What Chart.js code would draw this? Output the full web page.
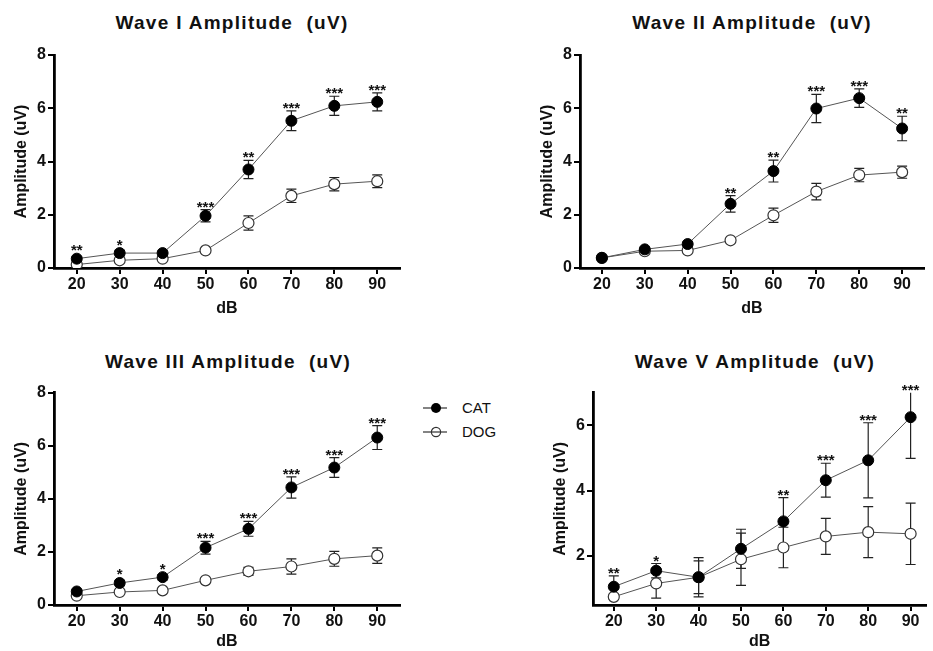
<!DOCTYPE html>
<html>
<head>
<meta charset="utf-8">
<script src="https://cdn.jsdelivr.net/npm/chart.js@4.4.1/dist/chart.umd.min.js"></script>
<style>
  html, body { margin: 0; padding: 0; background: #fff; overflow: hidden; }
  body { width: 933px; height: 651px; position: relative; font-family: 'Liberation Sans', Arial, sans-serif; color: #111; }
  canvas { position: absolute; }
  .title { position: absolute; font-weight: bold; font-size: 19px; letter-spacing: 1.3px; white-space: nowrap; transform: translate(-50%, -50%); }
  .legend-item { position: absolute; left: 423px; display: flex; align-items: center; font-size: 15px; }
  .legend-item svg { margin-right: 15px; }
</style>
</head>
<body>
<div class="title" style="left:232px;top:23px">Wave I Amplitude&nbsp; (uV)</div>
<div class="title" style="left:752px;top:23px">Wave II Amplitude&nbsp; (uV)</div>
<div class="title" style="left:228px;top:362px">Wave III Amplitude&nbsp; (uV)</div>
<div class="title" style="left:755px;top:362px">Wave V Amplitude&nbsp; (uV)</div>

<div class="legend-item" style="top:399px">
  <svg width="24" height="16"><line x1="0" y1="8" x2="24" y2="8" stroke="#333" stroke-width="1.2"/><circle cx="13" cy="8" r="5" fill="#000"/></svg><span>CAT</span>
</div>
<div class="legend-item" style="top:423px">
  <svg width="24" height="16"><line x1="0" y1="8" x2="24" y2="8" stroke="#333" stroke-width="1.2"/><circle cx="13" cy="8" r="4.6" fill="none" stroke="#333" stroke-width="1.2"/></svg><span>DOG</span>
</div>

<canvas id="wave1" width="466" height="318" style="left:0;top:0"></canvas>
<canvas id="wave2" width="407" height="318" style="left:526px;top:0"></canvas>
<canvas id="wave3" width="466" height="311" style="left:0;top:340px"></canvas>
<canvas id="wave5" width="394" height="311" style="left:539px;top:340px"></canvas>

<script>
const dB = [20, 30, 40, 50, 60, 70, 80, 90];
const ampTicks = [0, 2, 4, 6, 8];
const wave5Ticks = [2, 4, 6];

const wave1Cat    = [0.35, 0.56, 0.56, 1.96, 3.70, 5.53, 6.09, 6.24];
const wave1CatErr = [0.08, 0.10, 0.08, 0.23, 0.34, 0.37, 0.36, 0.34];
const wave1Dog    = [0.13, 0.29, 0.35, 0.66, 1.69, 2.71, 3.15, 3.26];
const wave1DogErr = [0.05, 0.05, 0.05, 0.06, 0.27, 0.25, 0.25, 0.24];
const wave1Stars  = ['**', '*', '', '***', '**', '***', '***', '***'];

const wave2Cat    = [0.38, 0.70, 0.90, 2.41, 3.64, 5.99, 6.38, 5.24];
const wave2CatErr = [0.06, 0.08, 0.08, 0.31, 0.41, 0.53, 0.35, 0.46];
const wave2Dog    = [0.38, 0.63, 0.66, 1.04, 1.98, 2.87, 3.49, 3.60];
const wave2DogErr = [0.05, 0.05, 0.06, 0.07, 0.27, 0.31, 0.25, 0.23];
const wave2Stars  = ['', '', '', '**', '**', '***', '***', '**'];

const wave3Cat    = [0.51, 0.83, 1.05, 2.16, 2.87, 4.43, 5.18, 6.31];
const wave3CatErr = [0.07, 0.10, 0.10, 0.24, 0.28, 0.40, 0.37, 0.45];
const wave3Dog    = [0.35, 0.49, 0.55, 0.93, 1.27, 1.45, 1.74, 1.86];
const wave3DogErr = [0.05, 0.06, 0.06, 0.08, 0.15, 0.29, 0.28, 0.29];
const wave3Stars  = ['', '*', '*', '***', '***', '***', '***', '***'];

const wave5Cat    = [1.06, 1.55, 1.35, 2.22, 3.06, 4.32, 4.93, 6.25];
const wave5CatErr = [0.33, 0.22, 0.50, 0.60, 0.73, 0.52, 1.15, 1.26];
const wave5Dog    = [0.75, 1.16, 1.35, 1.90, 2.26, 2.60, 2.73, 2.68];
const wave5DogErr = [0.08, 0.45, 0.60, 0.80, 0.62, 0.55, 0.78, 0.94];
const wave5Stars  = ['**', '*', '', '', '**', '***', '***', '***'];

const FONT = "'Liberation Sans', Arial, sans-serif";

// error bars under the markers, clipped to the plot; stars above the CAT bars
const errorBars = {
  id: 'errorBars',
  beforeDatasetsDraw(chart) {
    const { ctx, chartArea, scales: { x, y } } = chart;
    ctx.save();
    ctx.beginPath();
    ctx.rect(chartArea.left, chartArea.top, chartArea.right - chartArea.left, chartArea.bottom - chartArea.top);
    ctx.clip();
    ctx.strokeStyle = '#222';
    ctx.lineWidth = 1.2;
    chart.data.datasets.forEach(ds => {
      ds.data.forEach((p, i) => {
        const px = x.getPixelForValue(p.x);
        const top = y.getPixelForValue(p.y + ds.err[i]);
        const bot = y.getPixelForValue(p.y - ds.err[i]);
        ctx.beginPath();
        ctx.moveTo(px, top); ctx.lineTo(px, bot);
        ctx.moveTo(px - 5, top); ctx.lineTo(px + 5, top);
        ctx.moveTo(px - 5, bot); ctx.lineTo(px + 5, bot);
        ctx.stroke();
      });
    });
    ctx.restore();
  },
  afterDatasetsDraw(chart) {
    const { ctx, chartArea, scales: { x, y } } = chart;
    const ds = chart.data.datasets[0];
    ctx.save();
    ctx.fillStyle = '#111';
    ctx.font = 'bold 15px ' + FONT;
    ctx.textAlign = 'center';
    ctx.textBaseline = 'alphabetic';
    ds.data.forEach((p, i) => {
      if (!ds.stars[i]) return;
      const cap = y.getPixelForValue(p.y + ds.err[i]);
      const mark = y.getPixelForValue(p.y) - ds.pointRadius;
      const top = Math.max(Math.min(cap, mark), chartArea.top);
      ctx.fillText(ds.stars[i], x.getPixelForValue(p.x), top + 2);
    });
    ctx.restore();
  }
};

function makeChart(id, cat, catErr, dog, dogErr, stars, cfg) {
  return new Chart(document.getElementById(id), {
    type: 'line',
    data: {
      datasets: [
        {
          label: 'CAT',
          data: dB.map((v, i) => ({ x: v, y: cat[i] })),
          err: catErr,
          stars: stars,
          borderColor: '#555',
          borderWidth: 1,
          pointRadius: 5.5,
          pointBackgroundColor: '#000',
          pointBorderColor: '#000',
          pointBorderWidth: 1,
          tension: 0
        },
        {
          label: 'DOG',
          data: dB.map((v, i) => ({ x: v, y: dog[i] })),
          err: dogErr,
          stars: [],
          borderColor: '#555',
          borderWidth: 1,
          pointRadius: 5.5,
          pointBackgroundColor: '#fff',
          pointBorderColor: '#333',
          pointBorderWidth: 1.2,
          tension: 0
        }
      ]
    },
    options: {
      responsive: false,
      animation: false,
      layout: { padding: { top: cfg.padTop, right: cfg.padRight, left: 0, bottom: 0 } },
      plugins: { legend: { display: false }, tooltip: { enabled: false } },
      scales: {
        x: {
          type: 'linear',
          min: cfg.xMin,
          max: cfg.xMax,
          afterBuildTicks: s => { s.ticks = dB.map(v => ({ value: v })); },
          afterFit: s => { s.height = cfg.xH; },
          ticks: { color: '#111', font: { family: FONT, size: 16, weight: 'bold' }, padding: 1, maxRotation: 0 },
          grid: { drawOnChartArea: false, drawTicks: true, tickLength: 6, color: '#000', lineWidth: 2 },
          border: { display: true, color: '#000', width: 2.8 },
          title: { display: true, text: 'dB', color: '#111', font: { family: FONT, size: 16, weight: 'bold' }, padding: { top: 0, bottom: 0 } }
        },
        y: {
          min: cfg.yMin,
          max: cfg.yMax,
          afterBuildTicks: s => { s.ticks = cfg.yTicks.map(v => ({ value: v })); },
          afterFit: s => { s.width = 54; },
          ticks: { color: '#111', font: { family: FONT, size: 16, weight: 'bold' }, padding: 2 },
          grid: { drawOnChartArea: false, drawTicks: true, tickLength: 6, color: '#000', lineWidth: 2 },
          border: { display: true, color: '#000', width: 2.8 },
          title: { display: true, text: 'Amplitude (uV)', color: '#111', font: { family: FONT, size: 16, weight: 'bold' }, padding: { top: 12, bottom: 0 } }
        }
      }
    },
    plugins: [errorBars]
  });
}

makeChart('wave1', wave1Cat, wave1CatErr, wave1Dog, wave1DogErr, wave1Stars,
  { xMin: 14.7, xMax: 95.3, yMin: 0, yMax: 8, yTicks: ampTicks, padTop: 55, padRight: 66, xH: 50 });
makeChart('wave2', wave2Cat, wave2CatErr, wave2Dog, wave2DogErr, wave2Stars,
  { xMin: 14.9, xMax: 95.1, yMin: 0, yMax: 8, yTicks: ampTicks, padTop: 55, padRight: 9, xH: 50 });
makeChart('wave3', wave3Cat, wave3CatErr, wave3Dog, wave3DogErr, wave3Stars,
  { xMin: 14.7, xMax: 95.3, yMin: 0, yMax: 8, yTicks: ampTicks, padTop: 52.7, padRight: 66, xH: 46 });
makeChart('wave5', wave5Cat, wave5CatErr, wave5Dog, wave5DogErr, wave5Stars,
  { xMin: 15.1, xMax: 93.7, yMin: 0.5, yMax: 7, yTicks: wave5Ticks, padTop: 52.7, padRight: 0, xH: 46 });
</script>
</body>
</html>
